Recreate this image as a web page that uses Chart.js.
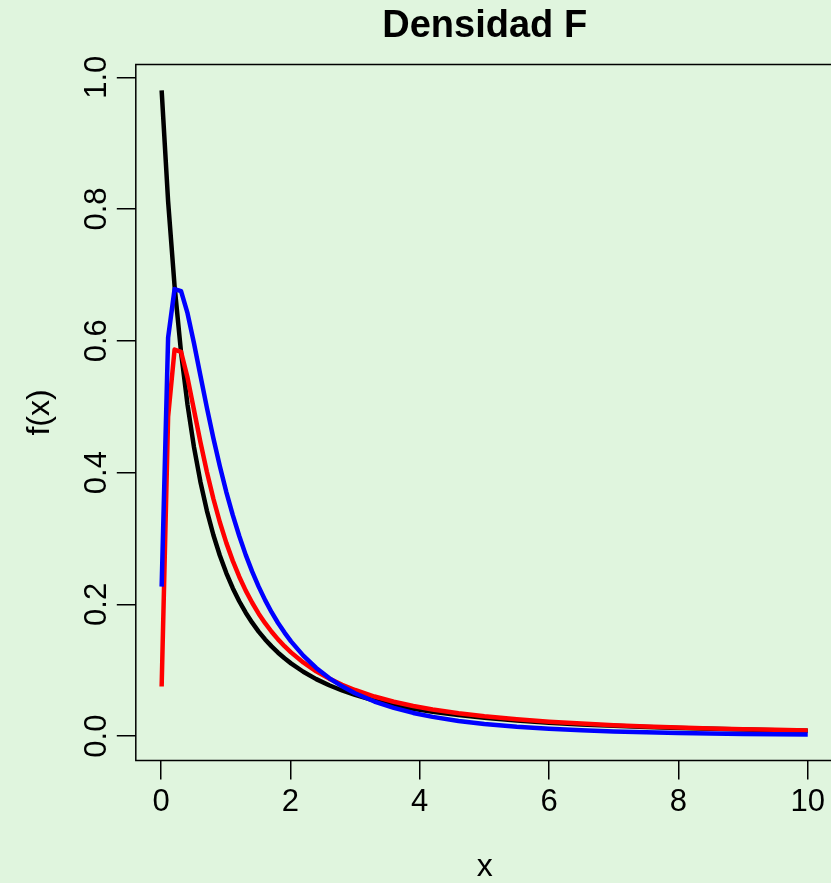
<!DOCTYPE html>
<html>
<head>
<meta charset="utf-8">
<title>Densidad F</title>
<script src="https://cdn.jsdelivr.net/npm/chart.js@4.4.1/dist/chart.umd.min.js"></script>
<style>
  html, body { margin: 0; padding: 0; background: #E0F5DE; overflow: hidden; }
  #wrap { position: absolute; left: 0; top: 0; width: 840px; height: 883px; }
</style>
</head>
<body>
<div id="wrap"><canvas id="densidad" width="840" height="883"></canvas></div>
<script>
// x grid used for the three curves
const xs = [
  0.01, 0.11, 0.21, 0.31, 0.41, 0.51, 0.61, 0.71, 0.81, 0.91,
  1.01, 1.11, 1.21, 1.31, 1.41, 1.51, 1.61, 1.71, 1.81, 1.91,
  2.01, 2.2, 2.4, 2.6, 2.8, 3.0, 3.3, 3.6, 3.9, 4.2,
  4.6, 5.0, 5.5, 6.0, 6.5, 7.0, 7.5, 8.0, 8.5, 9.0, 9.5, 10.0
];

// F(2,2)
const densNegra = [
  0.9803, 0.8116, 0.6830, 0.5827, 0.5030, 0.4386, 0.3858, 0.3420, 0.3052, 0.2741,
  0.2475, 0.2246, 0.2047, 0.1874, 0.1722, 0.1587, 0.1468, 0.1362, 0.1266, 0.1181,
  0.1104, 0.0977, 0.0865, 0.0772, 0.0693, 0.0625, 0.0541, 0.0473, 0.0416, 0.0370,
  0.0319, 0.0278, 0.0237, 0.0204, 0.0178, 0.0156, 0.0138, 0.0123, 0.0111, 0.0100, 0.0091, 0.0083
];

// F(4,2)
const densRoja = [
  0.0754, 0.4846, 0.5867, 0.5833, 0.5441, 0.4950, 0.4460, 0.4008, 0.3603, 0.3246,
  0.2933, 0.2660, 0.2420, 0.2209, 0.2024, 0.1859, 0.1714, 0.1584, 0.1468, 0.1365,
  0.1271, 0.1118, 0.0984, 0.0873, 0.0779, 0.0700, 0.0601, 0.0522, 0.0458, 0.0405,
  0.0347, 0.0301, 0.0255, 0.0218, 0.0190, 0.0166, 0.0146, 0.0130, 0.0117, 0.0105, 0.0095, 0.0086
];

// F(3,6)
const densAzul = [
  0.2269, 0.6048, 0.6785, 0.6754, 0.6419, 0.5962, 0.5469, 0.4983, 0.4521, 0.4095,
  0.3705, 0.3354, 0.3037, 0.2751, 0.2496, 0.2269, 0.2064, 0.1881, 0.1717, 0.1571,
  0.1438, 0.1222, 0.1035, 0.0881, 0.0756, 0.0651, 0.0525, 0.0428, 0.0352, 0.0292,
  0.0231, 0.0185, 0.0142, 0.0111, 0.0088, 0.0071, 0.0057, 0.0047, 0.0039, 0.0032, 0.0027, 0.0023
];

const xTicks = [0, 2, 4, 6, 8, 10];
const xTickLabels = ["0", "2", "4", "6", "8", "10"];
const yTicks = [0, 0.2, 0.4, 0.6, 0.8, 1.0];
const yTickLabels = ["0.0", "0.2", "0.4", "0.6", "0.8", "1.0"];

const FONT = "'Liberation Sans', Arial, Helvetica, sans-serif";
const BG = "#E0F5DE";

const toPoints = (ys) => xs.map((x, i) => ({ x: x, y: ys[i] }));

// plot background and the frame round the plotting region
const frame = {
  id: "frame",
  beforeDraw(chart) {
    const ctx = chart.ctx;
    ctx.save();
    ctx.fillStyle = BG;
    ctx.fillRect(0, 0, chart.width, chart.height);
    ctx.restore();
  },
  afterDraw(chart) {
    const { left, top, right, bottom } = chart.chartArea;
    const ctx = chart.ctx;
    ctx.save();
    ctx.strokeStyle = "#000";
    ctx.lineWidth = 1.5;
    ctx.strokeRect(left, top, right - left, bottom - top);
    ctx.restore();
  }
};

const lineStyle = {
  pointRadius: 0,
  borderWidth: 4.5,
  tension: 0,
  fill: false,
  borderCapStyle: "butt",
  borderJoinStyle: "round"
};

new Chart("densidad", {
  type: "line",
  data: {
    datasets: [
      { label: "F(2,2)", data: toPoints(densNegra), borderColor: "#000000", order: 3, ...lineStyle },
      { label: "F(4,2)", data: toPoints(densRoja), borderColor: "#FF0000", order: 2, ...lineStyle },
      { label: "F(3,6)", data: toPoints(densAzul), borderColor: "#0000FF", order: 1, ...lineStyle }
    ]
  },
  options: {
    responsive: false,
    animation: false,
    events: [],
    layout: { padding: { left: 0, right: 6.4, top: 0, bottom: 0 } },
    plugins: {
      legend: { display: false },
      tooltip: { enabled: false },
      title: {
        display: true,
        text: "Densidad F",
        fullSize: false,
        color: "#000",
        font: { family: FONT, size: 38, weight: "bold" },
        padding: { top: 4, bottom: 14.9 }
      }
    },
    scales: {
      x: {
        type: "linear",
        min: -0.3896,
        max: 10.3996,
        border: { display: false },
        grid: { drawOnChartArea: false, drawTicks: true, tickLength: 19, color: "#000", lineWidth: 1.5 },
        afterBuildTicks: (scale) => { scale.ticks = xTicks.map((v) => ({ value: v })); },
        afterFit: (scale) => { scale.height = 122.5; },
        ticks: {
          color: "#000",
          padding: 4,
          maxRotation: 0,
          autoSkip: false,
          font: { family: FONT, size: 31 },
          callback: (v, i) => xTickLabels[i]
        },
        title: {
          display: true,
          text: "x",
          color: "#000",
          font: { family: FONT, size: 32, lineHeight: 1 },
          padding: { top: 0, bottom: 0 }
        }
      },
      y: {
        type: "linear",
        min: -0.037,
        max: 1.0194,
        border: { display: false },
        grid: { drawOnChartArea: false, drawTicks: true, tickLength: 19, color: "#000", lineWidth: 1.5 },
        afterBuildTicks: (scale) => { scale.ticks = yTicks.map((v) => ({ value: v })); },
        afterFit: (scale) => { scale.width = 135.8; },
        ticks: {
          color: "#000",
          padding: -2,
          minRotation: 90,
          maxRotation: 90,
          crossAlign: "center",
          autoSkip: false,
          font: { family: FONT, size: 31 },
          callback: (v, i) => yTickLabels[i]
        },
        title: {
          display: true,
          text: "f(x)",
          color: "#000",
          font: { family: FONT, size: 32, lineHeight: 1 },
          padding: { top: 24, bottom: 0 }
        }
      }
    }
  },
  plugins: [frame]
});
</script>
</body>
</html>
